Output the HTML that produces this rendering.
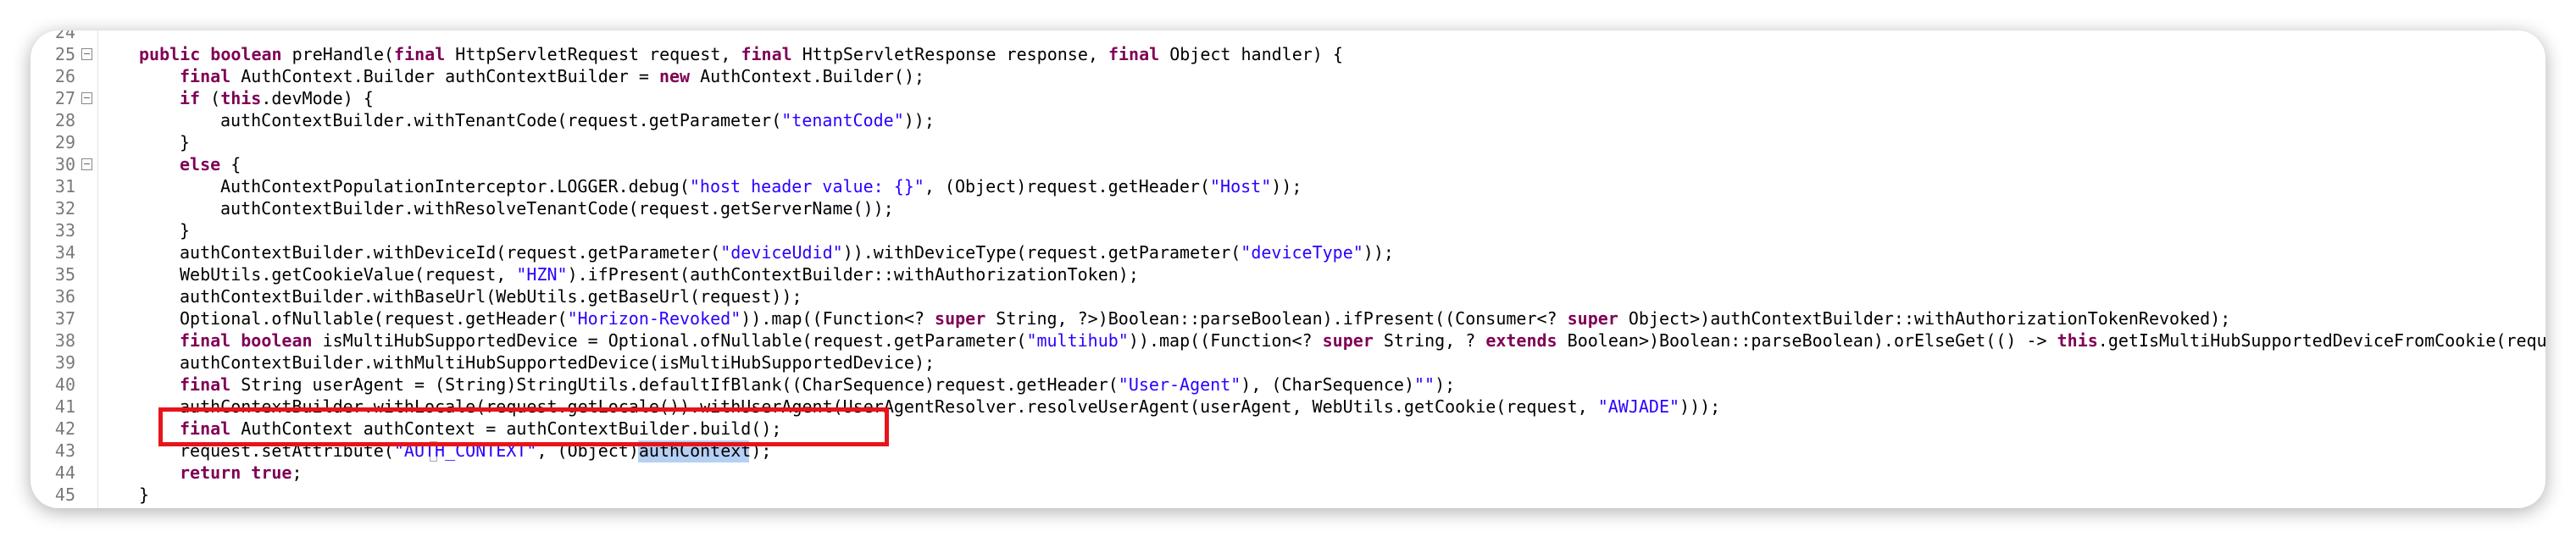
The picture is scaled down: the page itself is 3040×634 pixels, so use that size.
<!DOCTYPE html>
<html><head><meta charset="utf-8"><style>
html,body{margin:0;padding:0;background:#fff;width:3040px;height:634px;overflow:hidden}
#win{position:absolute;left:36px;top:36px;width:2968px;height:564px;background:#fff;border-radius:33px;box-shadow:0 4px 22px rgba(0,0,0,.32);overflow:hidden}
#gut{position:absolute;left:0;top:0;width:79px;height:100%;border-right:1px solid #e4e4e4}
.ln{position:absolute;left:0;width:53px;text-align:right;font:20px "DejaVu Sans Mono",monospace;color:#7a7a7a;line-height:26px}
.fb{position:absolute;left:60px;width:11px;height:12px;border:1px solid #888;background:#fff}
.fb:after{content:"";position:absolute;left:2px;right:2px;top:5px;height:1px;background:#666}
pre{position:absolute;left:0;top:0;margin:0;font:20px "DejaVu Sans Mono",monospace;line-height:26px;color:#000}
.l{position:absolute;white-space:pre}
b{color:#7f0055;font-weight:bold}
s{color:#2a00ff;text-decoration:none}
#hl{position:absolute;left:717px;top:484px;width:131px;height:26px;background:#b5d0f5}
#cur{position:absolute;left:471px;top:485px;width:9px;height:24px;border:1px solid #aaa;box-sizing:border-box}
#red{position:absolute;left:187px;top:481px;width:862px;height:46px;border:5px solid #e8141b;box-sizing:border-box}
</style></head><body>
<div id="win">
<div id="gut">
<div class="ln" style="top:-11px">24</div>
<div class="ln" style="top:15px">25</div><div class="fb" style="top:21px"></div>
<div class="ln" style="top:41px">26</div>
<div class="ln" style="top:67px">27</div><div class="fb" style="top:73px"></div>
<div class="ln" style="top:93px">28</div>
<div class="ln" style="top:119px">29</div>
<div class="ln" style="top:145px">30</div><div class="fb" style="top:151px"></div>
<div class="ln" style="top:171px">31</div>
<div class="ln" style="top:197px">32</div>
<div class="ln" style="top:223px">33</div>
<div class="ln" style="top:249px">34</div>
<div class="ln" style="top:275px">35</div>
<div class="ln" style="top:301px">36</div>
<div class="ln" style="top:327px">37</div>
<div class="ln" style="top:353px">38</div>
<div class="ln" style="top:379px">39</div>
<div class="ln" style="top:405px">40</div>
<div class="ln" style="top:431px">41</div>
<div class="ln" style="top:457px">42</div>
<div class="ln" style="top:483px">43</div>
<div class="ln" style="top:509px">44</div>
<div class="ln" style="top:535px">45</div>
</div>
<div id="hl"></div><div id="cur"></div>
<pre>
<div class="l" style="left:128px;top:15px"><b>public</b> <b>boolean</b> preHandle(<b>final</b> HttpServletRequest request, <b>final</b> HttpServletResponse response, <b>final</b> Object handler) {</div>
<div class="l" style="left:176px;top:41px"><b>final</b> AuthContext.Builder authContextBuilder = <b>new</b> AuthContext.Builder();</div>
<div class="l" style="left:176px;top:67px"><b>if</b> (<b>this</b>.devMode) {</div>
<div class="l" style="left:224px;top:93px">authContextBuilder.withTenantCode(request.getParameter(<s>"tenantCode"</s>));</div>
<div class="l" style="left:176px;top:119px">}</div>
<div class="l" style="left:176px;top:145px"><b>else</b> {</div>
<div class="l" style="left:224px;top:171px">AuthContextPopulationInterceptor.LOGGER.debug(<s>"host header value: {}"</s>, (Object)request.getHeader(<s>"Host"</s>));</div>
<div class="l" style="left:224px;top:197px">authContextBuilder.withResolveTenantCode(request.getServerName());</div>
<div class="l" style="left:176px;top:223px">}</div>
<div class="l" style="left:176px;top:249px">authContextBuilder.withDeviceId(request.getParameter(<s>"deviceUdid"</s>)).withDeviceType(request.getParameter(<s>"deviceType"</s>));</div>
<div class="l" style="left:176px;top:275px">WebUtils.getCookieValue(request, <s>"HZN"</s>).ifPresent(authContextBuilder::withAuthorizationToken);</div>
<div class="l" style="left:176px;top:301px">authContextBuilder.withBaseUrl(WebUtils.getBaseUrl(request));</div>
<div class="l" style="left:176px;top:327px">Optional.ofNullable(request.getHeader(<s>"Horizon-Revoked"</s>)).map((Function&lt;? <b>super</b> String, ?&gt;)Boolean::parseBoolean).ifPresent((Consumer&lt;? <b>super</b> Object&gt;)authContextBuilder::withAuthorizationTokenRevoked);</div>
<div class="l" style="left:176px;top:353px"><b>final</b> <b>boolean</b> isMultiHubSupportedDevice = Optional.ofNullable(request.getParameter(<s>"multihub"</s>)).map((Function&lt;? <b>super</b> String, ? <b>extends</b> Boolean&gt;)Boolean::parseBoolean).orElseGet(() -&gt; <b>this</b>.getIsMultiHubSupportedDeviceFromCookie(request));</div>
<div class="l" style="left:176px;top:379px">authContextBuilder.withMultiHubSupportedDevice(isMultiHubSupportedDevice);</div>
<div class="l" style="left:176px;top:405px"><b>final</b> String userAgent = (String)StringUtils.defaultIfBlank((CharSequence)request.getHeader(<s>"User-Agent"</s>), (CharSequence)<s>""</s>);</div>
<div class="l" style="left:176px;top:431px">authContextBuilder.withLocale(request.getLocale()).withUserAgent(UserAgentResolver.resolveUserAgent(userAgent, WebUtils.getCookie(request, <s>"AWJADE"</s>)));</div>
<div class="l" style="left:176px;top:457px"><b>final</b> AuthContext authContext = authContextBuilder.build();</div>
<div class="l" style="left:176px;top:483px">request.setAttribute(<s>"AUTH_CONTEXT"</s>, (Object)authContext);</div>
<div class="l" style="left:176px;top:509px"><b>return</b> <b>true</b>;</div>
<div class="l" style="left:128px;top:535px">}</div>
</pre>
</div>
<div id="red"></div>
</body></html>
